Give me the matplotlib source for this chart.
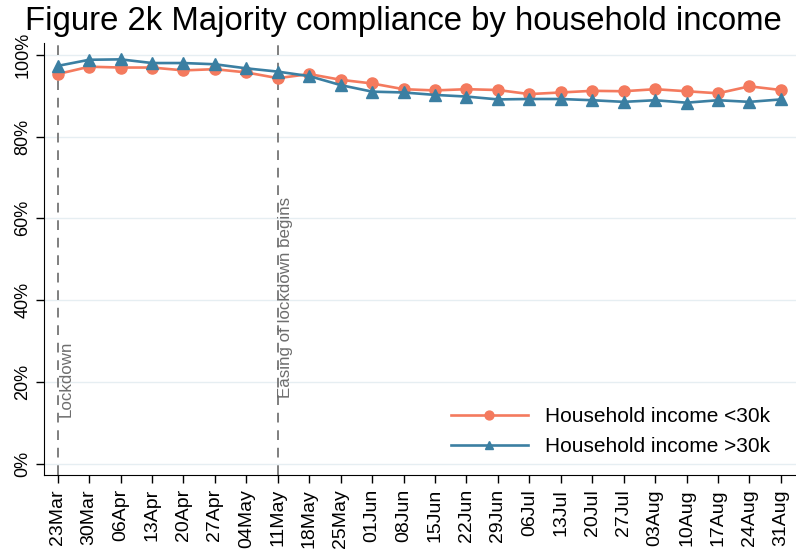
import matplotlib
matplotlib.use("Agg")
import matplotlib.pyplot as plt
from matplotlib.ticker import FuncFormatter

plt.rcParams['font.family'] = ['Liberation Sans', 'DejaVu Sans']

dates = ["23Mar", "30Mar", "06Apr", "13Apr", "20Apr", "27Apr", "04May", "11May",
         "18May", "25May", "01Jun", "08Jun", "15Jun", "22Jun", "29Jun", "06Jul",
         "13Jul", "20Jul", "27Jul", "03Aug", "10Aug", "17Aug", "24Aug", "31Aug"]
low_income = [95.3, 97.1, 96.9, 96.9, 96.2, 96.5, 95.7, 94.3, 95.3, 93.9, 93.0, 91.6,
              91.3, 91.6, 91.4, 90.4, 90.8, 91.2, 91.1, 91.6, 91.1, 90.6, 92.3, 91.4]
high_income = [97.3, 98.8, 98.9, 98.0, 98.0, 97.7, 96.7, 95.9, 94.8, 92.6, 91.0, 90.8,
               90.2, 89.8, 89.1, 89.2, 89.2, 88.9, 88.5, 88.9, 88.3, 88.9, 88.5, 89.1]
events = [("23Mar", "Lockdown", 11.3), ("11May", "Easing of lockdown begins", 16.0)]
yticks = [0, 20, 40, 60, 80, 100]

orange = "#F47A5E"
blue = "#3B7FA2"

fig = plt.figure(figsize=(7.96, 5.55), dpi=100)
ax = fig.add_axes([0.0553, 0.1441, 0.9447, 0.7784])

x = list(range(len(dates)))
ax.plot(x, low_income, color=orange, lw=1.9, marker="o", ms=8,
        label="Household income <30k", zorder=3)
ax.plot(x, high_income, color=blue, lw=1.9, marker="^", ms=8,
        label="Household income >30k", zorder=3)

for d, label, ypos in events:
    xi = dates.index(d)
    ax.axvline(xi, color="#7f7f7f", lw=1.4, ls=(0, (5, 4)), zorder=2)
    ax.text(xi + 0.02, ypos, label, rotation=90, color="#6e6e6e",
            fontsize=12.2, ha="left", va="bottom")

ax.set_xlim(-0.436, 23.48)
ax.set_ylim(-2.8, 102.9)
ax.set_yticks(yticks)
ax.yaxis.set_major_formatter(FuncFormatter(lambda v, p: f"{v:.0f}%"))
ax.set_xticks(x)
ax.set_xticklabels(dates, rotation=90)
ax.tick_params(axis="x", labelsize=14, length=6, width=1, direction="out", pad=4)
ax.tick_params(axis="y", labelsize=13, length=6, width=1, direction="out", pad=3)
for lab in ax.get_yticklabels():
    lab.set_rotation(90)
    lab.set_va("center")

ax.grid(axis="y", color="#E6EEF2", lw=1)
ax.set_axisbelow(True)
ax.spines["top"].set_visible(False)
ax.spines["right"].set_visible(False)

leg = ax.legend(loc="lower right", frameon=False, fontsize=15, handlelength=3.7,
                bbox_to_anchor=(0.99, 0.0), borderaxespad=0.5, labelspacing=0.55,
                markerscale=0.8)

fig.text(0.507, 0.962, "Figure 2k Majority compliance by household income",
         ha="center", va="center", fontsize=23.7)

fig.savefig("out.png", dpi=100, facecolor="white")
